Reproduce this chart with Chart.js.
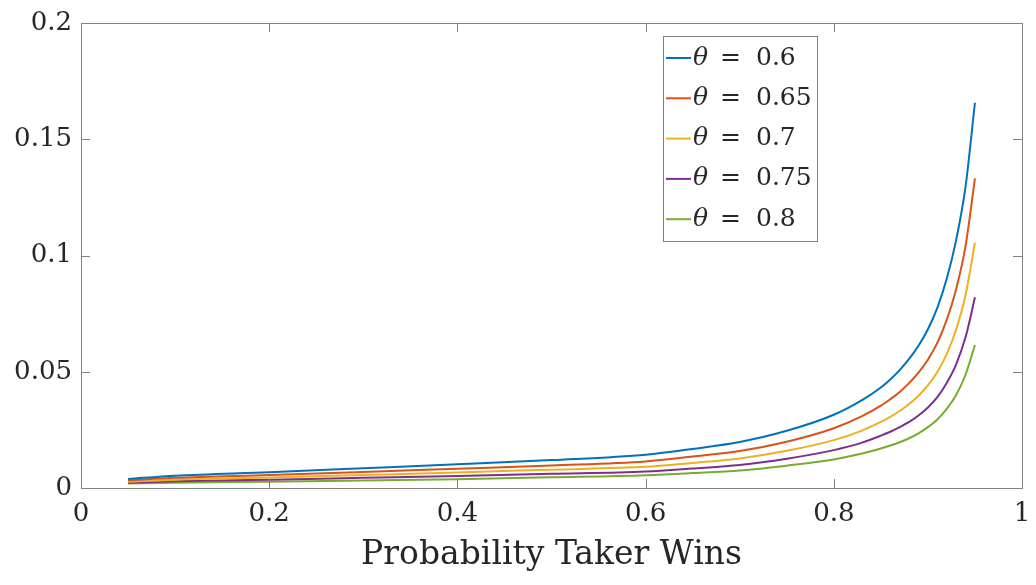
<!DOCTYPE html>
<html>
<head>
<meta charset="utf-8">
<script src="https://cdn.jsdelivr.net/npm/chart.js@4"></script>
<style>
  html, body { margin: 0; padding: 0; background: #fff; }
  #wrap { width: 1036px; height: 585px; position: relative; }
</style>
</head>
<body>
<div id="wrap"><canvas id="probChart"></canvas></div>
<script>
// probability the taker wins (x axis)
const winProb = [0.05, 0.1, 0.2, 0.3, 0.4, 0.5, 0.6, 0.65, 0.7, 0.75, 0.8, 0.83, 0.85, 0.86, 0.87, 0.88, 0.89, 0.9, 0.91, 0.92, 0.93, 0.94, 0.95];

// one curve per theta
const thetaValues = ['0.6', '0.65', '0.7', '0.75', '0.8'];
const theta060 = [0.0039, 0.0053, 0.0068, 0.0085, 0.0102, 0.0120, 0.0143, 0.0168, 0.0198, 0.0246, 0.0315, 0.0378, 0.0432, 0.0467, 0.0507, 0.0555, 0.0612, 0.0683, 0.0775, 0.0900, 0.1066, 0.1296, 0.1657];
const theta065 = [0.0033, 0.0044, 0.0056, 0.0069, 0.0083, 0.0097, 0.0114, 0.0135, 0.0159, 0.0199, 0.0257, 0.0309, 0.0354, 0.0382, 0.0413, 0.0451, 0.0496, 0.0552, 0.0624, 0.0723, 0.0855, 0.1040, 0.1332];
const theta070 = [0.0027, 0.0036, 0.0045, 0.0056, 0.0067, 0.0079, 0.0091, 0.0108, 0.0127, 0.0160, 0.0206, 0.0247, 0.0284, 0.0306, 0.0331, 0.0361, 0.0397, 0.0441, 0.0499, 0.0576, 0.0682, 0.0830, 0.1055];
const theta075 = [0.0023, 0.0029, 0.0036, 0.0044, 0.0052, 0.0061, 0.0071, 0.0084, 0.0099, 0.0126, 0.0163, 0.0195, 0.0225, 0.0242, 0.0262, 0.0284, 0.0312, 0.0346, 0.0391, 0.0452, 0.0532, 0.0648, 0.0820];
const theta080 = [0.0019, 0.0023, 0.0027, 0.0032, 0.0038, 0.0046, 0.0055, 0.0064, 0.0075, 0.0096, 0.0123, 0.0148, 0.0170, 0.0183, 0.0197, 0.0214, 0.0235, 0.0262, 0.0295, 0.0340, 0.0400, 0.0487, 0.0615];

const xTicks = [0, 0.2, 0.4, 0.6, 0.8, 1];
const yTicks = [0, 0.05, 0.1, 0.15, 0.2];

const seriesList = [theta060, theta065, theta070, theta075, theta080];
const lineColors = ['#0072BD', '#D95319', '#EDB120', '#7E2F8E', '#77AC30'];

const AXIS_COLOR = '#808080';
const TEXT_COLOR = '#262626';
const SERIF = '"DejaVu Serif", "Liberation Serif", serif';

const datasets = seriesList.map((vals, i) => ({
    label: `θ = ${thetaValues[i]}`,
    data: vals.map((v, j) => ({ x: winProb[j], y: v })),
    borderColor: lineColors[i],
    backgroundColor: lineColors[i],
    borderWidth: 2,
    pointRadius: 0,
    cubicInterpolationMode: 'monotone',
}));

// MATLAB-style box with inward ticks on all four sides
const boxTicks = {
    id: 'boxTicks',
    afterDatasetsDraw(chart) {
        const { ctx, chartArea: a, scales } = chart;
        const len = 9;
        ctx.save();
        ctx.strokeStyle = AXIS_COLOR;
        ctx.lineWidth = 1;
        ctx.strokeRect(a.left + 0.5, a.top + 0.5, a.right - a.left, a.bottom - a.top);
        ctx.beginPath();
        xTicks.forEach(t => {
            const px = Math.round(scales.x.getPixelForValue(t)) + 0.5;
            ctx.moveTo(px, a.bottom); ctx.lineTo(px, a.bottom - len);
            ctx.moveTo(px, a.top); ctx.lineTo(px, a.top + len);
        });
        yTicks.forEach(t => {
            const py = Math.round(scales.y.getPixelForValue(t)) + 0.5;
            ctx.moveTo(a.left, py); ctx.lineTo(a.left + len, py);
            ctx.moveTo(a.right, py); ctx.lineTo(a.right - len, py);
        });
        ctx.stroke();
        ctx.restore();
    }
};

// legend box in the upper right of the plot
const thetaLegend = {
    id: 'thetaLegend',
    afterDraw(chart) {
        const { ctx } = chart;
        const box = { x: 663.5, y: 36.5, w: 154, h: 205 };
        ctx.save();
        ctx.fillStyle = '#fff';
        ctx.fillRect(box.x, box.y, box.w, box.h);
        ctx.strokeStyle = AXIS_COLOR;
        ctx.lineWidth = 1;
        ctx.strokeRect(box.x, box.y, box.w, box.h);
        ctx.textBaseline = 'middle';
        chart.data.datasets.forEach((ds, i) => {
            const y = 58 + i * 40.3;
            ctx.strokeStyle = ds.borderColor;
            ctx.lineWidth = 2;
            ctx.beginPath();
            ctx.moveTo(666, y); ctx.lineTo(691, y);
            ctx.stroke();
            const [sym, val] = ds.label.split(' = ');
            ctx.fillStyle = TEXT_COLOR;
            ctx.font = `italic 25px ${SERIF}`;
            ctx.fillText(sym, 693, y);
            ctx.font = `25px ${SERIF}`;
            ctx.fillText('=', 720, y);
            ctx.fillText(val, 756, y);
        });
        ctx.restore();
    }
};

new Chart(document.getElementById('probChart'), {
    type: 'line',
    data: { datasets },
    options: {
        responsive: true,
        maintainAspectRatio: false,
        animation: false,
        layout: { padding: { top: 23, right: 14, left: 0, bottom: 0 } },
        plugins: {
            legend: { display: false },
            tooltip: { enabled: false },
        },
        scales: {
            x: {
                type: 'linear',
                min: 0,
                max: 1,
                afterBuildTicks: s => { s.ticks = xTicks.map(v => ({ value: v })); },
                afterFit: s => {
                    s.height = 97;
                    s.paddingLeft = 0;
                    s.paddingRight = 0;
                },
                grid: { display: false, drawTicks: false },
                border: { display: false },
                ticks: {
                    color: TEXT_COLOR,
                    font: { family: SERIF, size: 26 },
                    padding: 11,
                    maxRotation: 0,
                    callback: v => String(v),
                },
                title: {
                    display: true,
                    text: 'Probability Taker Wins',
                    color: TEXT_COLOR,
                    font: { family: SERIF, size: 33 },
                    padding: { top: 0, bottom: 10 },
                },
            },
            y: {
                min: 0,
                max: 0.2,
                afterBuildTicks: s => { s.ticks = yTicks.map(v => ({ value: v })); },
                afterFit: s => {
                    s.width = 81;
                    s.paddingTop = 0;
                    s.paddingBottom = 0;
                },
                grid: { display: false, drawTicks: false },
                border: { display: false },
                ticks: {
                    color: TEXT_COLOR,
                    font: { family: SERIF, size: 26 },
                    padding: 9,
                    callback: v => String(v),
                },
            },
        },
    },
    plugins: [boxTicks, thetaLegend],
});
</script>
</body>
</html>
